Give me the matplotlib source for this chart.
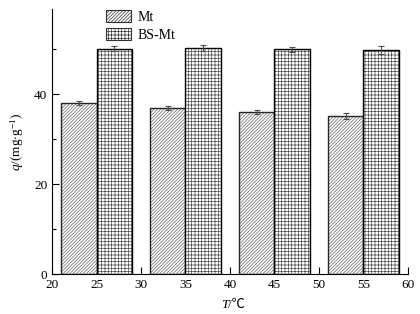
import numpy as np
import matplotlib
matplotlib.use('Agg')
import matplotlib.pyplot as plt
from matplotlib.ticker import MultipleLocator
from matplotlib.patches import Patch

plt.rcParams['font.family'] = ['Liberation Serif', 'Noto Sans CJK SC', 'DejaVu Sans']
plt.rcParams['mathtext.fontset'] = 'custom'
plt.rcParams['mathtext.rm'] = 'Liberation Serif'
plt.rcParams['mathtext.it'] = 'Liberation Serif:italic'
plt.rcParams['hatch.linewidth'] = 0.5

temps = [25, 35, 45, 55]
mt = [38.0, 36.9, 36.0, 35.2]
mt_err = [0.5, 0.5, 0.4, 0.7]
bsmt = [50.1, 50.2, 49.9, 49.8]
bsmt_err = [0.5, 0.7, 0.5, 0.8]

width = 4
hatch_mt = '//////////'
hatch_bs = '+++++'

fig = plt.figure(figsize=(4.2, 3.14), dpi=100)
ax = fig.add_axes([0.124, 0.127, 0.847, 0.843])

x = np.array(temps)
# hatch layer, then outline on top
ax.bar(x - width/2, mt, width, color='white', edgecolor='0.4', hatch=hatch_mt, linewidth=0)
ax.bar(x - width/2, mt, width, fill=False, edgecolor='0.15', linewidth=1.0)
ax.bar(x + width/2, bsmt, width, color='white', edgecolor='0.3', hatch=hatch_bs, linewidth=0)
ax.bar(x + width/2, bsmt, width, fill=False, edgecolor='black', linewidth=1.0)
ax.errorbar(x - width/2, mt, yerr=mt_err, fmt='none', ecolor='0.3', capsize=2.5, elinewidth=0.8, capthick=0.8)
ax.errorbar(x + width/2, bsmt, yerr=bsmt_err, fmt='none', ecolor='0.3', capsize=2.5, elinewidth=0.8, capthick=0.8)

ax.set_xlim(20, 60)
ax.set_ylim(0, 58.8)
ax.xaxis.set_major_locator(MultipleLocator(5))
ax.yaxis.set_major_locator(MultipleLocator(20))
ax.yaxis.set_minor_locator(MultipleLocator(10))
ax.tick_params(direction='in', labelsize=9.5, length=5, width=0.8)
ax.tick_params(which='minor', direction='in', length=3, width=0.8)
ax.spines['top'].set_visible(False)
ax.spines['right'].set_visible(False)

# x label: italic T followed by /℃
fig.text(0.543, 0.028, 'T', fontsize=9.5, style='italic', ha='right', va='center')
fig.text(0.543, 0.028, '/℃', fontsize=9.5, ha='left', va='center',
         family=['Liberation Serif', 'Noto Sans CJK SC'])
ax.set_ylabel(r'$q$/(mg$\cdot$g$^{-1}$)', fontsize=9.5, labelpad=6)

handles = [Patch(facecolor='white', edgecolor='0.2', hatch=hatch_mt, linewidth=0.8),
           Patch(facecolor='white', edgecolor='0.2', hatch=hatch_bs, linewidth=0.8)]
ax.legend(handles, ['Mt', 'BS-Mt'], loc='upper left', bbox_to_anchor=(0.135, 1.02),
          frameon=False, fontsize=10, handlelength=1.85, handleheight=1.0,
          handletextpad=0.45, labelspacing=0.3, borderaxespad=0)

fig.savefig('out.png', dpi=100)
